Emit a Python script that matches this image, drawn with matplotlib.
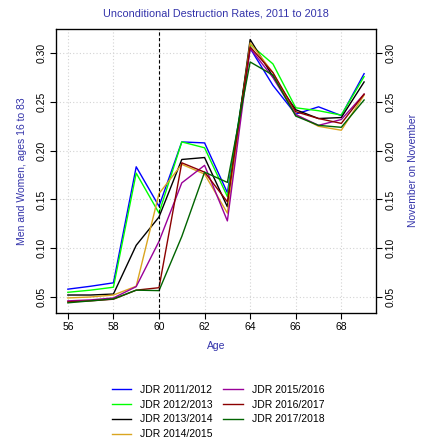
import matplotlib
matplotlib.use('Agg')
import matplotlib.pyplot as plt
import numpy as np

plt.rcParams['font.family'] = ['Liberation Sans', 'DejaVu Sans']

ages = list(range(56, 70))

jdr_2011 = [0.058, 0.061, 0.0645, 0.1835, 0.143, 0.209, 0.208, 0.157, 0.305, 0.267, 0.2375, 0.245, 0.236, 0.279]
jdr_2012 = [0.0548, 0.057, 0.060, 0.177, 0.136, 0.209, 0.203, 0.153, 0.309, 0.289, 0.244, 0.241, 0.2365, 0.276]
jdr_2013 = [0.052, 0.052, 0.053, 0.103, 0.132, 0.191, 0.193, 0.1425, 0.314, 0.276, 0.242, 0.233, 0.234, 0.2705]
jdr_2014 = [0.049, 0.050, 0.052, 0.061, 0.156, 0.186, 0.176, 0.136, 0.3106, 0.280, 0.237, 0.225, 0.221, 0.257]
jdr_2015 = [0.046, 0.047, 0.049, 0.0606, 0.107, 0.167, 0.185, 0.128, 0.305, 0.275, 0.237, 0.226, 0.232, 0.258]
jdr_2016 = [0.045, 0.046, 0.0477, 0.057, 0.0595, 0.1876, 0.178, 0.1476, 0.3065, 0.280, 0.240, 0.233, 0.228, 0.258]
jdr_2017 = [0.044, 0.046, 0.048, 0.057, 0.0565, 0.112, 0.178, 0.1675, 0.291, 0.2775, 0.2355, 0.226, 0.224, 0.252]

series = [jdr_2011, jdr_2012, jdr_2013, jdr_2014, jdr_2015, jdr_2016, jdr_2017]
labels = ["JDR 2011/2012", "JDR 2012/2013", "JDR 2013/2014", "JDR 2014/2015",
          "JDR 2015/2016", "JDR 2016/2017", "JDR 2017/2018"]
colors = ["#0000FF", "#00FF00", "#000000", "#DAA520", "#990099", "#8B0000", "#006400"]

x_ticks = [56, 58, 60, 62, 64, 66, 68]
y_ticks = [0.05, 0.10, 0.15, 0.20, 0.25, 0.30]

title_col = "#3333AA"
fs = 7.5

fig = plt.figure(figsize=(4.21, 4.41), dpi=100)
ax = fig.add_axes([0.133, 0.291, 0.760, 0.643])

for vals, lab, c in zip(series, labels, colors):
    ax.plot(ages, vals, color=c, lw=1.0, label=lab)

ax.axvline(60, color="black", ls=(0, (3, 2)), lw=0.8)

ax.set_xlim(55.48, 69.52)
ax.set_ylim(0.0339, 0.3247)
ax.set_xticks(x_ticks)
ax.set_yticks(y_ticks)
ax.set_yticklabels([f"{v:.2f}" for v in y_ticks], rotation=90, va="center")
ax.tick_params(labelsize=fs, length=4, width=0.8, pad=3)
ax.grid(True, color="#D3D3D3", ls=(0, (1, 2)), lw=0.8)
for s in ax.spines.values():
    s.set_linewidth(0.9)

ax2 = ax.twinx()
ax2.set_ylim(ax.get_ylim())
ax2.set_yticks(y_ticks)
ax2.set_yticklabels([f"{v:.2f}" for v in y_ticks], rotation=90, va="center")
ax2.tick_params(labelsize=fs, length=4, width=0.8, pad=3)

ax.set_title("Unconditional Destruction Rates, 2011 to 2018", color=title_col,
             fontsize=7.8, pad=9)
ax.set_xlabel("Age", color=title_col, fontsize=fs, labelpad=6)
ax.set_ylabel("Men and Women, ages 16 to 83", color=title_col, fontsize=fs, labelpad=7)
ax2.set_ylabel("November on November", color=title_col, fontsize=fs, labelpad=9)

handles, labs = ax.get_legend_handles_labels()
fig.legend(handles, labs, loc="upper center", bbox_to_anchor=(0.518, 0.148),
           ncol=2, frameon=False, fontsize=fs, handlelength=1.85,
           handletextpad=0.9, columnspacing=1.0, labelspacing=0.45)

fig.savefig("out.png", dpi=100)
